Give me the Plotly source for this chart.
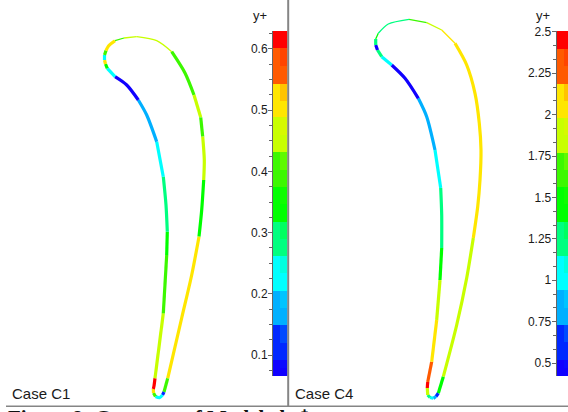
import plotly.graph_objects as go

W, H = 568, 412

# Contour bands, low to high (same colours in both legends)
BAND_COLOURS = ["#1000ff", "#0028ff", "#00b0ff", "#00ffff", "#00ff80", "#00ff00",
                "#3cf800", "#c8ff00", "#ffe600", "#ff5a00", "#ff0000"]
C1_LEVELS = [0.066, 0.093, 0.150, 0.206, 0.263, 0.319, 0.375, 0.432, 0.489, 0.544, 0.602, 0.630]
C4_LEVELS = [0.4215, 0.524, 0.7325, 0.941, 1.152, 1.357, 1.566, 1.774, 1.985, 2.19, 2.402, 2.508]

C1_TICKS = [0.1, 0.2, 0.3, 0.4, 0.5, 0.6]
C1_TICK_TEXT = ["0.1", "0.2", "0.3", "0.4", "0.5", "0.6"]
C4_TICKS = [0.5, 0.75, 1, 1.25, 1.5, 1.75, 2, 2.25, 2.5]
C4_TICK_TEXT = ["0.5", "0.75", "1", "1.25", "1.5", "1.75", "2", "2.25", "2.5"]

# Blade outlines, clockwise from the apex; *_BAND[i] is the
# contour band of the stretch from point i to point i+1.
C1_X = [136.7, 156.7, 171.7, 185.0, 194.0, 200.7, 202.7, 204.3, 203.7, 201.7, 199.0,
        191.7, 181.7, 167.7, 164.0, 162.5, 159.5, 155.5, 153.5, 153.3, 154.0, 155.0,
        163.3, 166.7, 167.3, 166.0, 163.3, 156.7, 146.7, 138.3, 126.7, 115.0, 107.3,
        105.5, 104.5, 104.5, 106.0, 108.5, 115.0, 124.0]
C1_Y = [36.7, 40.7, 51.7, 73.0, 95.0, 117.3, 136.7, 160.0, 180.0, 210.0, 236.7,
        275.0, 318.0, 378.3, 392.0, 395.0, 397.7, 396.5, 393.0, 389.0, 386.0, 378.3,
        313.3, 255.0, 231.7, 205.0, 176.7, 141.7, 115.0, 100.0, 85.0, 76.7, 68.3,
        64.0, 60.0, 55.0, 50.5, 46.0, 40.7, 38.0]
C1_BAND = [7, 7, 6, 6, 7, 6, 7, 7, 5, 5, 8, 8, 8, 6, 1, 3, 3, 6, 8, 10, 10, 7,
           6, 5, 4, 4, 3, 2, 2, 0, 0, 3, 5, 8, 3, 6, 8, 8, 6, 7]

C4_X = [409.0, 426.7, 441.7, 455.0, 466.7, 475.0, 479.3, 481.0, 480.0, 477.7, 473.3,
        466.7, 456.7, 443.3, 438.3, 436.0, 433.3, 430.0, 427.7, 427.3, 427.7, 431.7,
        436.7, 440.0, 441.7, 441.7, 440.7, 435.0, 426.7, 418.3, 405.0, 391.7, 381.7,
        377.5, 375.7, 375.7, 378.3, 388.3]
C4_Y = [19.3, 22.7, 30.0, 43.3, 65.0, 93.3, 123.3, 150.0, 180.0, 206.7, 238.0,
        278.0, 325.0, 376.7, 393.3, 396.5, 398.3, 397.5, 395.0, 388.0, 382.0, 361.7,
        320.0, 280.0, 248.0, 215.0, 188.0, 150.0, 116.7, 98.3, 78.3, 65.0, 56.7,
        50.0, 45.0, 39.0, 33.3, 24.0]
C4_BAND = [6, 7, 8, 8, 8, 8, 8, 8, 8, 8, 7, 7, 7, 5, 1, 2, 3, 4, 7, 10, 9, 8,
           7, 5, 4, 4, 3, 2, 2, 0, 0, 3, 4, 0, 4, 5, 4, 4]

# Frame and text
GRID = "#858585"
TEXT = "#1a1a1a"
FONT = "Liberation Sans"


def mix(a, b, t):
    pa = [int(a[i:i + 2], 16) for i in (1, 3, 5)]
    pb = [int(b[i:i + 2], 16) for i in (1, 3, 5)]
    return "#" + "".join(f"{round(p + (q - p) * t):02x}" for p, q in zip(pa, pb))


fig = go.Figure()


def add_blade(xs, ys, bands):
    start = 0
    n = len(bands)
    m = len(xs)
    def is_thin(i):
        return ys[i] < 34 or ys[(i + 1) % m] < 34 or (ys[i] < 42 and 114 < xs[i] < 170)
    for i in range(n):
        if i + 1 < n and bands[i + 1] == bands[i] and is_thin(i) == is_thin(i + 1):
            continue
        idx = list(range(start, i + 2))
        fig.add_trace(go.Scatter(
            x=[xs[j % m] for j in idx], y=[ys[j % m] for j in idx],
            mode="lines", line=dict(color=BAND_COLOURS[bands[i]], width=1.3 if is_thin(i) else 3.2,
                                    shape="spline", smoothing=0.8),
            hoverinfo="skip", showlegend=False, xaxis="x", yaxis="y"))
        start = i + 1


def add_legend(levels, xa, ya):
    n = len(BAND_COLOURS)
    fig.add_trace(go.Bar(
        x=[0] * n, base=levels[:-1], y=[levels[i + 1] - levels[i] for i in range(n)],
        width=1, marker=dict(color=BAND_COLOURS, line=dict(width=0)),
        hoverinfo="skip", showlegend=False, xaxis=xa, yaxis=ya))
    bases, heights, colours = [], [], []
    for i in range(n):
        lo, hi = levels[i], levels[i + 1]
        mid = (lo + hi) / 2
        up = BAND_COLOURS[min(i + 1, n - 1)]
        bases += [lo, mid]
        heights += [mid - lo, hi - mid]
        colours += [BAND_COLOURS[i], mix(BAND_COLOURS[i], up, 0.25)]
    fig.add_trace(go.Bar(
        x=[1] * len(bases), base=bases, y=heights, width=1,
        marker=dict(color=colours, line=dict(width=0)),
        hoverinfo="skip", showlegend=False, xaxis=xa, yaxis=ya))


add_blade(C1_X, C1_Y, C1_BAND)
add_blade(C4_X, C4_Y, C4_BAND)
add_legend(C1_LEVELS, "x2", "y2")
add_legend(C4_LEVELS, "x3", "y3")


def value_axis(anchor, domain, levels, ticks, text, minor):
    return dict(domain=domain, anchor=anchor, range=[levels[0], levels[-1]], tickmode="array",
                tickvals=ticks, ticktext=text, ticks="outside", ticklen=4, tickcolor="#666666",
                tickwidth=1, tickfont=dict(family=FONT, size=12, color=TEXT), showgrid=False,
                zeroline=False, showline=True, linecolor="#666666", linewidth=1, mirror=True,
                minor=dict(dtick=minor, tick0=0, ticks="outside", ticklen=3, tickcolor="#666666",
                           tickwidth=1, showgrid=False), ticklabelstandoff=-2, automargin=False)


def col_axis(anchor, domain, rng):
    return dict(domain=domain, anchor=anchor, range=rng, showticklabels=False, ticks="",
                showgrid=False, zeroline=False, showline=False, automargin=False)


legend_dom = [(H - 376) / H, (H - 30.5) / H]
fig.update_layout(
    width=W, height=H, margin=dict(l=0, r=0, t=0, b=0, pad=0, autoexpand=False),
    paper_bgcolor="white", plot_bgcolor="rgba(0,0,0,0)", barmode="overlay", bargap=0,
    xaxis=dict(domain=[0, 1], range=[0, W], visible=False, automargin=False),
    yaxis=dict(domain=[0, 1], range=[H, 0], visible=False, automargin=False),
    xaxis2=col_axis("y2", [273 / W, 287.5 / W], [-0.5, 1.5]),
    yaxis2=value_axis("x2", legend_dom, C1_LEVELS, C1_TICKS, C1_TICK_TEXT, 0.025),
    xaxis3=col_axis("y3", [556.7 / W, 1], [-0.5, -0.5 + 11.3 / 7]),
    yaxis3=value_axis("x3", legend_dom, C4_LEVELS, C4_TICKS, C4_TICK_TEXT, 0.25 / 3),
    shapes=[
        dict(type="line", xref="x", yref="y", x0=288.2, x1=288.2, y0=0, y1=406.5,
             line=dict(color=GRID, width=2)),
        dict(type="line", xref="x", yref="y", x0=6, x1=W, y0=406.2, y1=406.2,
             line=dict(color=GRID, width=1.4)),
    ],
    annotations=[
        dict(text="y+", xref="x", yref="y", x=260, y=15, showarrow=False,
             font=dict(family=FONT, size=13, color=TEXT)),
        dict(text="y+", xref="x", yref="y", x=543, y=15, showarrow=False,
             font=dict(family=FONT, size=13, color=TEXT)),
        dict(text="Case C1", xref="x", yref="y", x=10, y=393, xanchor="left", showarrow=False,
             font=dict(family=FONT, size=15, color=TEXT)),
        dict(text="Case C4", xref="x", yref="y", x=293, y=393, xanchor="left", showarrow=False,
             font=dict(family=FONT, size=15, color=TEXT)),
        dict(text="<b>Figure 8: Contours of Modeled y⁺</b>", xref="x", yref="y", x=6, y=403.5,
             xanchor="left", yanchor="top", showarrow=False,
             font=dict(family="Liberation Serif", size=21, color="#111111")),
    ],
)
fig.write_html("out.html", config={"displayModeBar": False},
               post_script="document.body.style.margin='0';document.documentElement.style.overflow='hidden';")
